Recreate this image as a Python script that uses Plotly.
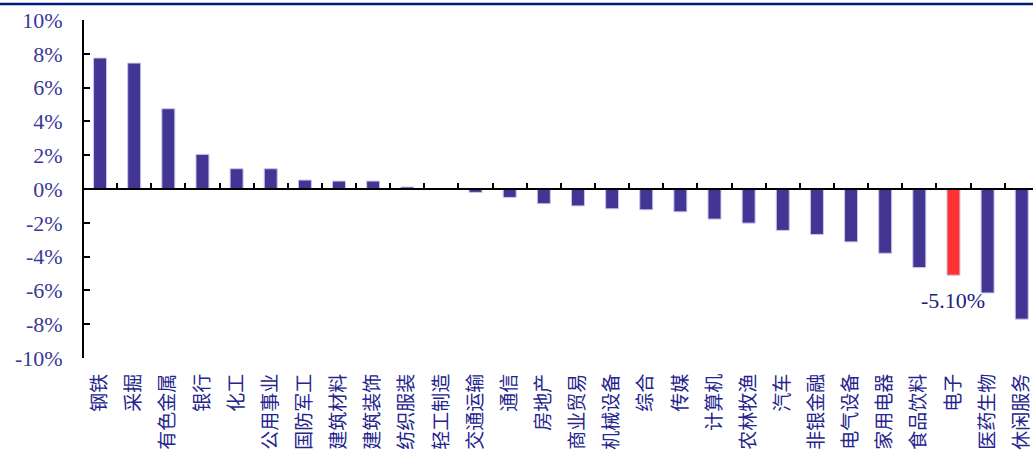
import plotly.graph_objects as go

# 行业涨跌幅（%）
industries = ["钢铁", "采掘", "有色金属", "银行", "化工", "公用事业", "国防军工", "建筑材料",
              "建筑装饰", "纺织服装", "轻工制造", "交通运输", "通信", "房地产", "商业贸易",
              "机械设备", "综合", "传媒", "计算机", "农林牧渔", "汽车", "非银金融", "电气设备",
              "家用电器", "食品饮料", "电子", "医药生物", "休闲服务"]
returns_pct = [7.75, 7.45, 4.75, 2.05, 1.2, 1.2, 0.53, 0.47,
               0.47, 0.12, 0.02, -0.2, -0.5, -0.87, -1.0,
               -1.17, -1.23, -1.35, -1.78, -2.02, -2.45, -2.69, -3.13,
               -3.8, -4.65, -5.10, -6.15, -7.7]
highlight = "电子"
y_ticks = [-10, -8, -6, -4, -2, 0, 2, 4, 6, 8, 10]
y_tick_text = [f"{v}%" for v in y_ticks]

W, H = 1033, 454
ML, MR, MT, MB = 84, 0, 20, 96
plot_w = W - ML - MR
plot_h = H - MT - MB

BLUE = "#433594"
RED = "#FF3333"
idx = list(range(len(industries)))
colors = [RED if n == highlight else BLUE for n in industries]
x_range = [-0.47, 27.33]

fig = go.Figure()
fig.add_trace(go.Bar(
    x=idx, y=returns_pct, width=0.38,
    marker=dict(color=colors, line=dict(color="#C9C6E8", width=1)),
    showlegend=False, hoverinfo="skip",
))
# invisible helper trace so the zero-line axis is drawn
fig.add_trace(go.Scatter(x=[0], y=[0], xaxis="x2", mode="markers",
                         marker=dict(opacity=0), showlegend=False, hoverinfo="skip"))

hi = industries.index(highlight)
fig.add_annotation(
    x=hi, y=returns_pct[hi], text=f"{returns_pct[hi]:.2f}%", showarrow=False,
    yshift=-25, xanchor="center", yanchor="middle",
    font=dict(family="Liberation Serif", size=22, color="#1A2380"),
)

# top rule
fig.add_shape(type="line", xref="paper", yref="paper",
              x0=-ML / plot_w, x1=1.0, y0=(plot_h + MT - 4) / plot_h, y1=(plot_h + MT - 4) / plot_h,
              line=dict(color="#001A7A", width=2.5))

fig.update_layout(
    width=W, height=H,
    margin=dict(l=ML, r=MR, t=MT, b=MB, pad=0),
    paper_bgcolor="white", plot_bgcolor="white",
    bargap=0.62,
    xaxis=dict(
        range=x_range, tickvals=idx, ticktext=industries, tickangle=-90,
        showline=False, showgrid=False, zeroline=False, ticks="",
        ticklabelstandoff=11,
        tickfont=dict(family="Noto Sans CJK SC", size=19, color="#24248C"),
    ),
    xaxis2=dict(
        overlaying="x", matches="x", anchor="free", position=0.5, side="bottom",
        range=x_range, tickvals=[i + 0.5 for i in range(-1, len(industries))],
        showticklabels=False, ticks="inside", ticklen=5, tickwidth=2, tickcolor="black",
        showline=True, linecolor="black", linewidth=2, showgrid=False, zeroline=False,
    ),
    yaxis=dict(
        range=[-10, 10], tickvals=y_ticks, ticktext=y_tick_text,
        showline=True, linecolor="black", linewidth=2,
        ticks="inside", ticklen=6, tickwidth=2, tickcolor="black",
        showgrid=False, zeroline=False, ticklabelstandoff=15,
        tickfont=dict(family="Liberation Serif", size=22, color="#3A3A96"),
    ),
)

fig.write_html("out.html")
